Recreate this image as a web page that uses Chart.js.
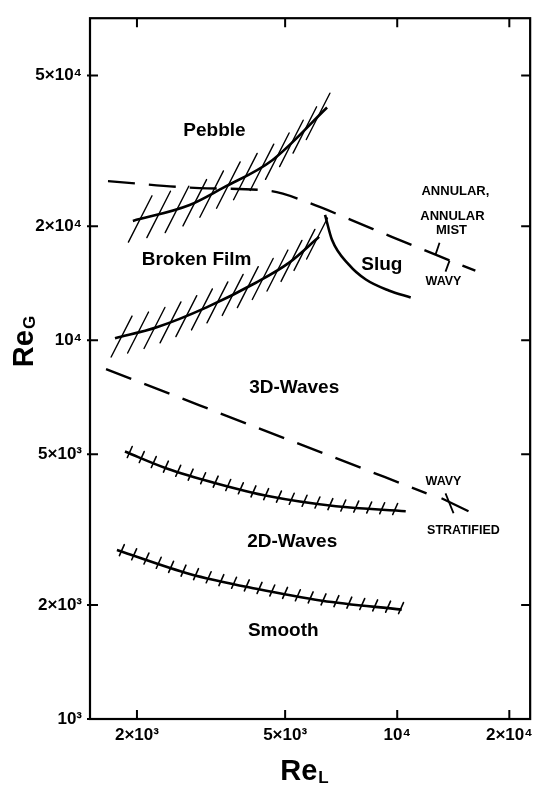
<!DOCTYPE html>
<html>
<head>
<meta charset="utf-8">
<title>Flow regime map</title>
<script src="https://cdn.jsdelivr.net/npm/chart.js@4.4.1/dist/chart.umd.min.js"></script>
<style>
  html, body { margin: 0; padding: 0; background: #fff; }
  canvas { display: block; }
</style>
</head>
<body>
<canvas id="regimeChart" width="539" height="785"></canvas>
<script>
// Axis ticks
const xTicks = [2000, 5000, 10000, 20000];
const xTickLabels = ['2×10³', '5×10³', '10⁴', '2×10⁴'];
const yTicks = [1000, 2000, 5000, 10000, 20000, 50000];
const yTickLabels = ['10³', '2×10³', '5×10³', '10⁴', '2×10⁴', '5×10⁴'];

// Boundary curves, Re_L / Re_G
const pebbleReL = [1950, 2770, 3395, 4618, 6480];
const pebbleReG = [20650, 22750, 25210, 29870, 41140];

const brokenReL = [1746, 2261, 3076, 4184, 5127, 6168];
const brokenReG = [10120, 10820, 12210, 14200, 16020, 18750];

const annularReL = [1672, 2946, 4590, 5800, 7512, 9667, 12670, 16210];
const annularReG = [26300, 25210, 24760, 23030, 20780, 18750, 16820, 15260];

const slugReL = [6400, 6680, 7416, 8236, 9490, 10870];
const slugReG = [21420, 18410, 15830, 14460, 13530, 12970];

const threeDReL = [1652, 2946, 5453, 11990];
const threeDReG = [8390, 6730, 5324, 3943];

const twoDReL = [1857, 2404, 3272, 4533, 6846, 10540];
const twoDReG = [5082, 4586, 4188, 3873, 3645, 3537];

const smoothReL = [1767, 2770, 4184, 6282, 10280];
const smoothReG = [2794, 2416, 2207, 2053, 1944];

// short pointers near the right-hand notes
const stratReL = [13150, 15540];
const stratReG = [3826, 3537];
const stratCrossReL = [13480, 14160];
const stratCrossReG = [3943, 3494];
const mistArrowReL = [12670, 12990];
const mistArrowReG = [16820, 18080];
const wavyArrowReL = [13820, 13480];
const wavyArrowReG = [16220, 15170];

// Region names, anchored in data units
const regionNames = ['Pebble', 'Broken Film', 'Slug', '3D-Waves', '2D-Waves', 'Smooth'];
const regionReL = [3231, 2892, 9090, 5288, 5223, 4942];
const regionReG = [35800, 16320, 15830, 7482, 2933, 1713];

const noteNames = ['ANNULAR,', 'ANNULAR', 'MIST', 'WAVY', 'WAVY', 'STRATIFIED'];
const noteReL = [14330, 14070, 13990, 13310, 13310, 15060];
const noteReG = [24760, 21160, 19440, 14290, 4239, 3152];

const FONT = '"Liberation Sans", Arial, "DejaVu Sans", sans-serif';

function curve(xs, ys) {
    return xs.map((x, i) => ({ x: x, y: ys[i] }));
}

function line(data, opts) {
    return Object.assign({
        data: data,
        borderColor: '#000',
        borderWidth: 2.6,
        pointRadius: 0,
        fill: false,
        cubicInterpolationMode: 'monotone'
    }, opts || {});
}

// Sample the drawn spline of a dataset as a fine polyline
function samplePath(pts) {
    const out = [];
    for (let i = 0; i < pts.length - 1; i++) {
        const a = pts[i], b = pts[i + 1];
        const c1x = a.cp2x ?? a.x, c1y = a.cp2y ?? a.y;
        const c2x = b.cp1x ?? b.x, c2y = b.cp1y ?? b.y;
        for (let t = 0; t < 1; t += 0.04) {
            const u = 1 - t;
            out.push({
                x: u*u*u*a.x + 3*u*u*t*c1x + 3*u*t*t*c2x + t*t*t*b.x,
                y: u*u*u*a.y + 3*u*u*t*c1y + 3*u*t*t*c2y + t*t*t*b.y
            });
        }
    }
    const last = pts[pts.length - 1];
    out.push({ x: last.x, y: last.y });
    return out;
}

const paperPlugin = {
    id: 'paper',
    afterDatasetsDraw(chart) {
        const { ctx, chartArea: a, scales: { x, y } } = chart;
        ctx.save();
        ctx.strokeStyle = '#000';
        ctx.fillStyle = '#000';
        ctx.lineCap = 'round';

        // hatching on the transition boundaries
        chart.data.datasets.forEach((ds, i) => {
            if (!ds.hatch) return;
            const h = ds.hatch;
            const path = samplePath(chart.getDatasetMeta(i).data);
            const ang = h.angle * Math.PI / 180;
            const dx = Math.cos(ang) * h.len / 2, dy = -Math.sin(ang) * h.len / 2;
            ctx.lineWidth = h.width;
            let next = h.gap * 0.4, run = 0;
            for (let k = 1; k < path.length; k++) {
                const p = path[k - 1], q = path[k];
                const seg = Math.hypot(q.x - p.x, q.y - p.y);
                while (run + seg >= next) {
                    const t = (next - run) / seg;
                    const cx = p.x + (q.x - p.x) * t;
                    const cy = p.y + (q.y - p.y) * t - h.lift;
                    ctx.beginPath();
                    ctx.moveTo(cx - dx, cy - dy);
                    ctx.lineTo(cx + dx, cy + dy);
                    ctx.stroke();
                    next += h.gap;
                }
                run += seg;
            }
        });

        // frame and inward ticks on all four sides
        ctx.lineCap = 'butt';
        ctx.lineWidth = 2.2;
        ctx.strokeRect(a.left, a.top, a.right - a.left, a.bottom - a.top);
        ctx.lineWidth = 2;
        xTicks.forEach(v => {
            const px = x.getPixelForValue(v);
            ctx.beginPath();
            ctx.moveTo(px, a.bottom); ctx.lineTo(px, a.bottom - 9);
            ctx.moveTo(px, a.top); ctx.lineTo(px, a.top + 9);
            ctx.stroke();
        });
        yTicks.forEach(v => {
            const py = y.getPixelForValue(v);
            ctx.beginPath();
            ctx.moveTo(a.left - 3, py); ctx.lineTo(a.left + 8, py);
            ctx.moveTo(a.right, py); ctx.lineTo(a.right - 9, py);
            ctx.stroke();
        });

        // region names
        ctx.textAlign = 'center';
        ctx.textBaseline = 'middle';
        ctx.font = 'bold 19px ' + FONT;
        regionNames.forEach((t, i) => {
            ctx.fillText(t, x.getPixelForValue(regionReL[i]), y.getPixelForValue(regionReG[i]));
        });
        noteNames.forEach((t, i) => {
            ctx.font = (t === 'WAVY' || t === 'STRATIFIED' ? 'bold 12.5px ' : 'bold 13px ') + FONT;
            ctx.fillText(t, x.getPixelForValue(noteReL[i]), y.getPixelForValue(noteReG[i]));
        });

        // axis titles with subscripts
        ctx.textAlign = 'left';
        ctx.textBaseline = 'alphabetic';
        ctx.save();
        ctx.translate(33, 342);
        ctx.rotate(-Math.PI / 2);
        ctx.font = 'bold 29px ' + FONT;
        const wG = ctx.measureText('Re').width;
        ctx.font = 'bold 17px ' + FONT;
        const wG2 = ctx.measureText('G').width;
        ctx.font = 'bold 29px ' + FONT;
        ctx.fillText('Re', -(wG + wG2) / 2, 0);
        ctx.font = 'bold 17px ' + FONT;
        ctx.fillText('G', -(wG + wG2) / 2 + wG + 1, 2);
        ctx.restore();

        ctx.font = 'bold 29px ' + FONT;
        const wL = ctx.measureText('Re').width;
        ctx.font = 'bold 17px ' + FONT;
        const wL2 = ctx.measureText('L').width;
        const lx = 304 - (wL + wL2) / 2;
        ctx.font = 'bold 29px ' + FONT;
        ctx.fillText('Re', lx, 780);
        ctx.font = 'bold 17px ' + FONT;
        ctx.fillText('L', lx + wL + 1, 783);

        ctx.restore();
    }
};

const hatchLong = (len, gap) => ({ len: len, gap: gap, angle: 63, width: 1.4, lift: 0 });
const hatchShort = { len: 12, gap: 13, angle: 66, width: 1.6, lift: 1.5 };

new Chart(document.getElementById('regimeChart'), {
    type: 'line',
    data: {
        datasets: [
            line(curve(pebbleReL, pebbleReG), { hatch: hatchLong(52, 19) }),
            line(curve(brokenReL, brokenReG), { hatch: hatchLong(46, 17) }),
            line(curve(annularReL, annularReG), { borderDash: [27, 14], borderWidth: 2.4 }),
            line(curve(slugReL, slugReG)),
            line(curve(threeDReL, threeDReG), { borderDash: [27, 14], borderWidth: 2.4 }),
            line(curve(twoDReL, twoDReG), { hatch: hatchShort }),
            line(curve(smoothReL, smoothReG), { hatch: hatchShort }),
            line(curve(stratReL, stratReG), { borderWidth: 2.2 }),
            line(curve(stratCrossReL, stratCrossReG), { borderWidth: 1.8 }),
            line(curve(mistArrowReL, mistArrowReG), { borderWidth: 1.8 }),
            line(curve(wavyArrowReL, wavyArrowReG), { borderWidth: 1.8 })
        ]
    },
    options: {
        responsive: false,
        animation: false,
        layout: { padding: { top: 14, right: 7, left: 0, bottom: 0 } },
        plugins: {
            legend: { display: false },
            tooltip: { enabled: false }
        },
        scales: {
            x: {
                type: 'logarithmic',
                min: 1496,
                max: 22750,
                grid: { display: false, drawTicks: false },
                border: { display: false },
                afterBuildTicks: s => { s.ticks = xTicks.map(v => ({ value: v })); },
                afterFit: s => { s.height = 66; },
                ticks: {
                    autoSkip: false,
                    maxRotation: 0,
                    padding: 6,
                    color: '#000',
                    font: { family: FONT, size: 17, weight: 'bold' },
                    callback: (v) => xTickLabels[xTicks.indexOf(v)]
                }
            },
            y: {
                type: 'logarithmic',
                min: 1000,
                max: 70800,
                grid: { display: false, drawTicks: false },
                border: { display: false },
                afterBuildTicks: s => { s.ticks = yTicks.map(v => ({ value: v })); },
                afterFit: s => { s.width = 90; },
                ticks: {
                    autoSkip: false,
                    padding: 8,
                    color: '#000',
                    font: { family: FONT, size: 17, weight: 'bold' },
                    callback: (v) => yTickLabels[yTicks.indexOf(v)]
                }
            }
        }
    },
    plugins: [paperPlugin]
});
</script>
</body>
</html>
